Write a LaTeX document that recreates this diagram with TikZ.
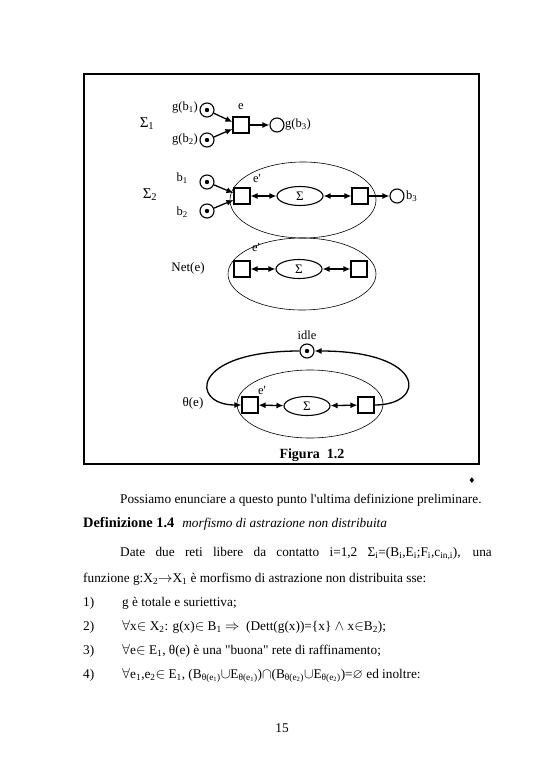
\documentclass[tikz,border=0pt]{standalone}
\usepackage{amssymb}
\usepackage{fontspec}
\setmainfont{Liberation Serif}
\newfontfamily\djv{DejaVu Sans}
\usetikzlibrary{arrows.meta,shapes.geometric}
\tikzset{
  place/.style={circle,draw,line width=1.1pt,minimum size=14pt,inner sep=0pt},
  marked/.style={place,path picture={\fill (path picture bounding box.center) circle (2.2pt);}},
  trans/.style={rectangle,draw,line width=1.1pt,minimum size=16pt,inner sep=0pt},
  sig/.style={ellipse,draw,line width=1.1pt,minimum width=46pt,minimum height=19pt,inner sep=0pt,font=\fontsize{13}{13}\selectfont},
  bigell/.style={ellipse,draw,line width=0.6pt,inner sep=0pt},
  tip/.tip={Latex[length=7pt,width=6pt]},
  arr/.style={-tip,line width=1.3pt},
  darr/.style={tip-tip,line width=1.3pt},
  lab/.style={inner sep=0pt,font=\fontsize{12.5}{13}\selectfont},
  body/.style={inner sep=0pt,anchor=base west,font=\fontsize{13.3}{16}\selectfont},
}
\begin{document}
\begin{tikzpicture}[x=1pt,y=-1pt]
\useasboundingbox[fill=white] (0,0) rectangle (545,768);
% frame
\node[draw,line width=1.1pt,minimum width=395pt,minimum height=390pt,inner sep=0pt] (frame) at (281.5,269) {};
% ---- row 1
\node[lab,font=\fontsize{15}{15}\selectfont] (S1) at (147,124) {Σ\textsubscript{1}};
\node[marked] (p1) at (207,110) {};
\node[marked] (p2) at (207,140) {};
\node[trans] (t1) at (241,125) {};
\node[place] (p3) at (277,125) {};
\node[lab,anchor=east] (lp1) at (198,108) {g(b\textsubscript{1})};
\node[lab,anchor=east] (lp2) at (198,140) {g(b\textsubscript{2})};
\node[lab] (le) at (241,107) {e};
\node[lab,anchor=west] (lp3) at (285,125) {g(b\textsubscript{3})};
\draw[arr] (p1) -- ([yshift=3pt]t1.west);
\draw[arr] (p2) -- ([yshift=-4pt]t1.west);
\draw[arr] (t1) -- (p3);
% ---- row 2
\node[lab,font=\fontsize{15}{15}\selectfont] (S2) at (150,195) {Σ\textsubscript{2}};
\node[bigell,minimum width=146pt,minimum height=76pt] (E2) at (303,200) {};
\node[marked] (q1) at (207,182) {};
\node[marked] (q2) at (207,211) {};
\node[trans] (t2) at (242,196) {};
\node[sig] (s2) at (300,196) {Σ};
\node[trans] (t3) at (360,196) {};
\node[place] (q3) at (397,196) {};
\node[lab,anchor=east] (lq1) at (188,178) {b\textsubscript{1}};
\node[lab,anchor=east] (lq2) at (188,212) {b\textsubscript{2}};
\node[lab] (le2) at (257,178) {e\textquotesingle};
\node[lab,anchor=west] (lq3) at (406,196) {b\textsubscript{3}};
\draw[arr] (q1) -- ([yshift=3pt]t2.west);
\draw[arr] (q2) -- ([yshift=-4pt]t2.west);
\draw[darr] (t2) -- (s2);
\draw[darr] (s2) -- (t3);
\draw[arr] (t3) -- (q3);
% ---- row 3
\node[lab,font=\fontsize{13}{13}\selectfont] (N) at (188,268) {Net(e)};
\node[bigell,minimum width=148pt,minimum height=72pt] (E3) at (302,274) {};
\node[trans] (t4) at (242,269) {};
\node[sig] (s3) at (299,269) {Σ};
\node[trans] (t5) at (359,269) {};
\node[lab] (le3) at (256,247) {e\textquotesingle};
\draw[darr] (t4) -- (s3);
\draw[darr] (s3) -- (t5);
% ---- row 4
\node[lab,font=\fontsize{13}{13}\selectfont] (T) at (193,403) {θ(e)};
\node[marked] (r1) at (307,351) {};
\node[lab] (lidle) at (307,335) {idle};
\node[bigell,minimum width=146pt,minimum height=68pt] (E4) at (310,404) {};
\node[trans] (t6) at (250,405) {};
\node[sig] (s4) at (307,406) {Σ};
\node[trans] (t7) at (366,405) {};
\node[lab] (le4) at (262,390) {e\textquotesingle};
\draw[darr] (t6) -- (s4);
\draw[darr] (s4) -- (t7);
\draw[arr] (t7.east) .. controls (427,405) and (427,351) .. (r1.east);
\draw[arr] (r1.west) .. controls (190,351) and (190,405) .. (t6.west);
% caption
\node[inner sep=0pt,font=\fontsize{14}{14}\selectfont\bfseries] (cap) at (312,455) {Figura\ \ 1.2};
\node[inner sep=0pt,font=\djv\fontsize{8}{8}\selectfont] (dia) at (472,481) {♦};
% ---- body text
\node[body] (l1) at (120,503) {Possiamo enunciare a questo punto l\textquotesingle ultima definizione preliminare.};
\node[body] (l2) at (83,527) {{\fontsize{14.4}{16}\selectfont\bfseries Definizione 1.4}\hspace{8pt}\textit{morfismo di astrazione non distribuita}};
\node[body] (l3) at (120,556) {\makebox[371.7pt][s]{Date due reti libere da contatto i=1,2 Σ\textsubscript{i}=(B\textsubscript{i},E\textsubscript{i};F\textsubscript{i},c\textsubscript{in,i}), una}};
\node[body] (l4) at (83,582) {funzione g:X\textsubscript{2}$\rightarrow$X\textsubscript{1} è morfismo di astrazione non distribuita sse:};
\node[body] (n1) at (83,606) {1)};
\node[body] (n2) at (83,630) {2)};
\node[body] (n3) at (83,654) {3)};
\node[body] (n4) at (83,678) {4)};
\node[body] (i1) at (122,606) {g è totale e suriettiva;};
\node[body] (i2) at (122,630) {$\forall$x$\in$ X\textsubscript{2}: g(x)$\in$ B\textsubscript{1} $\Rightarrow$\ \ (Dett(g(x))=\{x\} $\wedge$ x$\in$B\textsubscript{2});};
\node[body] (i3) at (122,654) {$\forall$e$\in$ E\textsubscript{1}, θ(e) è una \textquotedbl buona\textquotedbl{} rete di raffinamento;};
\node[body] (i4) at (122,678) {$\forall$e\textsubscript{1},e\textsubscript{2}$\in$ E\textsubscript{1}, (B\textsubscript{θ(e\textsubscript{1})}$\cup$E\textsubscript{θ(e\textsubscript{1})})$\cap$(B\textsubscript{θ(e\textsubscript{2})}$\cup$E\textsubscript{θ(e\textsubscript{2})})=$\varnothing$ ed inoltre:};
\node[body,anchor=base] (pg) at (282,732) {15};
\end{tikzpicture}
\end{document}
